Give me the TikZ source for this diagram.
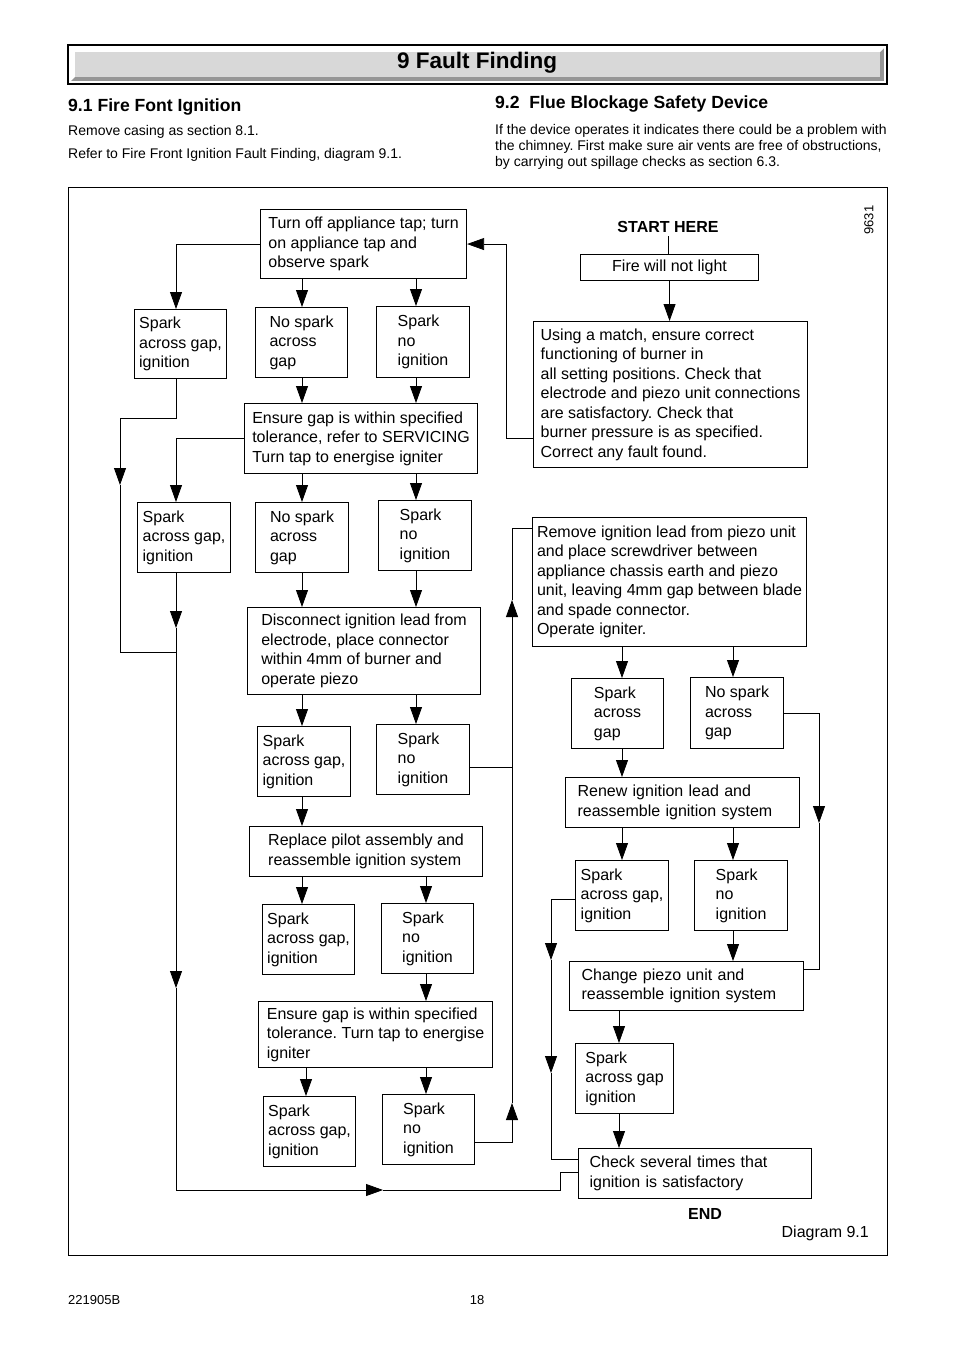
\documentclass[tikz,border=0pt]{standalone}
\usepackage{fontspec}
\setmainfont{Liberation Sans}
\usepackage{tikz}
\usetikzlibrary{arrows.meta,calc}
\definecolor{BevelFace}{RGB}{216,216,216}
\definecolor{BevelDark}{RGB}{150,150,150}
\newcommand{\boxfont}{\fontsize{16}{19.5}\selectfont}
\newcommand{\bodyfont}{\fontsize{14}{16}\selectfont}
\newcommand{\headfont}{\fontsize{17.6}{20}\selectfont\bfseries}
\frenchspacing
\tikzset{
  fbox/.style 2 args={draw, line width=1.1pt, anchor=north west, inner sep=0pt,
    minimum width=#1pt, minimum height=#2pt, align=left, font=\boxfont},
  txt/.style={inner sep=0pt},
  flow/.style={line width=0.8pt},
  arr/.style={flow, -{Triangle[length=17pt,width=12pt]}}
}

\begin{document}
\begin{tikzpicture}[x=1pt,y=-1pt]
  \useasboundingbox (0,0) rectangle (954,1351);
  % page header
  \fill[BevelDark] (71,48) rectangle (884,81);
  \fill[white] (71,48) -- (884,48) -- (880,52) -- (75,52) -- (75,77) -- (71,81) -- cycle;
  \fill[BevelFace] (75,52) rectangle (880,77);
  \draw[line width=1.1pt] (68,45) rectangle (887,84);
  \node[font=\fontsize{22.5}{26}\selectfont\bfseries] (title) at (477,63) {9 Fault Finding};
  \node[txt, anchor=base west, font=\headfont] (secA) at (68,112) {9.1 Fire Font Ignition};
  \node[txt, anchor=base west, font=\bodyfont] (secAone) at (68,136) {Remove casing as section 8.1.};
  \node[txt, anchor=base west, font=\bodyfont] (secAtwo) at (68,159) {Refer to Fire Front Ignition Fault Finding, diagram 9.1.};
  \node[txt, anchor=base west, font=\headfont] (secB) at (495,109) {9.2\ \ Flue Blockage Safety Device};
  \node[txt, anchor=north west, font=\bodyfont, align=left] (secBtext) at (495,124)
    {If the device operates it indicates there could be a problem with\\
     the chimney. First make sure air vents are free of obstructions,\\
     by carrying out spillage checks as section 6.3.};

  % diagram frame
  \draw[line width=0.9pt] (68,187) rectangle (887,1255);
  \node[rotate=90, font=\fontsize{13}{15}\selectfont] (figNo) at (869,220) {9631};

  % left part of the chart
  \node[fbox={206}{69}] (tapBox) at (260,209) {Turn off appliance tap; turn\\on appliance tap and\\observe spark};
  \node[fbox={92}{69}] (sparkA) at (134,309) {Spark\\across gap,\\ignition};
  \node[fbox={92}{70}] (noSparkA) at (255,307) {No spark\\across\\gap};
  \node[fbox={93}{71}] (noIgnA) at (376,306) {Spark\\no\\ignition};
  \node[fbox={233}{70}] (gapBox) at (244,403) {Ensure gap is within specified\\tolerance, refer to SERVICING\\Turn tap to energise igniter};
  \node[fbox={93}{70}] (sparkB) at (137,502) {Spark\\across gap,\\ignition};
  \node[fbox={93}{70}] (noSparkB) at (255,502) {No spark\\across\\gap};
  \node[fbox={93}{70}] (noIgnB) at (378,500) {Spark\\no\\ignition};
  \node[fbox={233}{87}] (leadBox) at (247,607) {Disconnect ignition lead from\\electrode, place connector\\within 4mm of burner and\\operate piezo};
  \node[fbox={93}{70}] (sparkC) at (257,726) {Spark\\across gap,\\ignition};
  \node[fbox={93}{70}] (noIgnC) at (376,724) {Spark\\no\\ignition};
  \node[fbox={233}{50}] (pilotBox) at (249,826) {Replace pilot assembly and\\reassemble ignition system};
  \node[fbox={92}{70}] (sparkD) at (262,904) {Spark\\across gap,\\ignition};
  \node[fbox={92}{70}] (noIgnD) at (381,903) {Spark\\no\\ignition};
  \node[fbox={234}{66}] (gapBoxB) at (258,1001) {Ensure gap is within specified\\tolerance. Turn tap to energise\\igniter};
  \node[fbox={92}{70}] (sparkE) at (263,1096) {Spark\\across gap,\\ignition};
  \node[fbox={92}{70}] (noIgnE) at (382,1094) {Spark\\no\\ignition};

  % right part of the chart
  \node[font=\boxfont\bfseries] (start) at (668,227) {START HERE};
  \node[fbox={178}{26}, align=center] (fireBox) at (580,254) {Fire will not light};
  \node[fbox={274}{146}] (matchBox) at (533,321) {Using a match, ensure correct\\functioning of burner in\\all setting positions. Check that\\electrode and piezo unit connections\\are satisfactory. Check that\\burner pressure is as specified.\\Correct any fault found.};
  \node[fbox={274}{129}] (piezoTest) at (532,517) {Remove ignition lead from piezo unit\\and place screwdriver between\\appliance chassis earth and piezo\\unit, leaving 4mm gap between blade\\and spade connector.\\Operate igniter.};
  \node[fbox={92}{70}] (sparkP) at (571,678) {Spark\\across\\gap};
  \node[fbox={93}{71}] (noSparkP) at (690,677) {No spark\\across\\gap};
  \node[fbox={234}{50}, text width=210pt] (leadRenew) at (565,777) {Renew ignition lead and\\reassemble ignition system};
  \node[fbox={93}{70}] (sparkQ) at (575,860) {Spark\\across gap,\\ignition};
  \node[fbox={93}{70}] (noIgnQ) at (694,860) {Spark\\no\\ignition};
  \node[fbox={234}{49}, text width=210pt] (piezoChange) at (569,961) {Change piezo unit and\\reassemble ignition system};
  \node[fbox={98}{70}] (sparkR) at (575,1043) {Spark\\across gap\\ignition};
  \node[fbox={233}{50}, text width=211pt] (checkBox) at (578,1148) {Check several times that\\ignition is satisfactory};
  \node[font=\boxfont\bfseries] (finish) at (705,1214) {END};
  \node[txt, anchor=base east, font=\boxfont] (diagLabel) at (869,1237) {Diagram 9.1};

  % footer
  \node[txt, anchor=base west, font=\fontsize{13}{15}\selectfont] (docNo) at (68,1304) {221905B};
  \node[txt, anchor=base, font=\fontsize{13}{15}\selectfont] (pageNo) at (477,1304) {18};

  % columns of the straight arrows
  \coordinate (colL) at (176,0);
  \coordinate (colM) at (302,0);
  \coordinate (colR) at (416,0);
  \coordinate (colM2) at (306,0);
  \coordinate (colR2) at (426,0);
  \coordinate (colP) at (622,0);
  \coordinate (colP2) at (619,0);
  \coordinate (colQ) at (733,0);

  % straight arrows, left part
  \draw[arr] (tapBox.south -| colM) -- (noSparkA.north -| colM);
  \draw[arr] (tapBox.south -| colR) -- (noIgnA.north -| colR);
  \draw[arr] (tapBox.west) -| (sparkA.north -| colL);
  \draw[arr] (noSparkA.south -| colM) -- (gapBox.north -| colM);
  \draw[arr] (noIgnA.south -| colR) -- (gapBox.north -| colR);
  \draw[arr] (gapBox.west) -| (sparkB.north -| colL);
  \draw[arr] (gapBox.south -| colM) -- (noSparkB.north -| colM);
  \draw[arr] (gapBox.south -| colR) -- (noIgnB.north -| colR);
  \draw[arr] (noSparkB.south -| colM) -- (leadBox.north -| colM);
  \draw[arr] (noIgnB.south -| colR) -- (leadBox.north -| colR);
  \draw[arr] (leadBox.south -| colM) -- (sparkC.north -| colM);
  \draw[arr] (leadBox.south -| colR) -- (noIgnC.north -| colR);
  \draw[arr] (sparkC.south -| colM) -- (pilotBox.north -| colM);
  \draw[arr] (pilotBox.south -| colM) -- (sparkD.north -| colM);
  \draw[arr] (pilotBox.south -| colR2) -- (noIgnD.north -| colR2);
  \draw[arr] (noIgnD.south -| colR2) -- (gapBoxB.north -| colR2);
  \draw[arr] (gapBoxB.south -| colM2) -- (sparkE.north -| colM2);
  \draw[arr] (gapBoxB.south -| colR2) -- (noIgnE.north -| colR2);

  % outer left return
  \coordinate (loopTop) at (120,418);
  \coordinate (loopTip) at (120,485);
  \coordinate (loopEnd) at (120,652);
  \draw[arr] (sparkA.south -| colL) |- (loopTop) -- (loopTip);
  \draw[flow] (loopTip) -- (loopEnd) -- (loopEnd -| colL);

  % long line down to the check box
  \coordinate (downTipA) at (176,628);
  \coordinate (downTipB) at (176,988);
  \coordinate (baseCorner) at (176,1190);
  \coordinate (baseTip) at (383,1190);
  \coordinate (baseJog) at (560,1190);
  \coordinate (jogTop) at (560,1172);
  \draw[arr] (sparkB.south -| colL) -- (downTipA);
  \draw[arr] (downTipA) -- (downTipB);
  \draw[arr] (downTipB) -- (baseCorner) -- (baseTip);
  \draw[flow] (baseTip) -- (baseJog) -- (jogTop) -- (jogTop -| checkBox.west);

  % rising line to the piezo test
  \coordinate (riseBend) at (512,767);
  \coordinate (lowBend) at (512,1142);
  \coordinate (riseTipA) at (512,600);
  \coordinate (riseTipB) at (512,1103);
  \coordinate (riseTop) at (512,528);
  \draw[flow] (noIgnC.east |- riseBend) -- (riseBend);
  \draw[arr] (noIgnE.east |- lowBend) -- (lowBend) -- (riseTipB);
  \draw[flow] (riseTipB) -- (riseBend);
  \draw[arr] (riseBend) -- (riseTipA);
  \draw[flow] (riseTipA) -- (riseTop) -- (riseTop -| piezoTest.west);

  % back from the match check to the tap
  \coordinate (backBend) at (506,438);
  \draw[arr] (matchBox.west |- backBend) -- (backBend) |- (tapBox.east);

  % right part
  \draw[flow] (start.south) -- (start.south |- fireBox.north);
  \draw[arr] (fireBox.south) -- (fireBox.south |- matchBox.north);
  \draw[arr] (piezoTest.south -| colP) -- (sparkP.north -| colP);
  \draw[arr] (piezoTest.south -| colQ) -- (noSparkP.north -| colQ);
  \draw[arr] (sparkP.south -| colP) -- (leadRenew.north -| colP);
  \draw[arr] (leadRenew.south -| colP) -- (sparkQ.north -| colP);
  \draw[arr] (leadRenew.south -| colQ) -- (noIgnQ.north -| colQ);
  \draw[arr] (noIgnQ.south -| colQ) -- (piezoChange.north -| colQ);
  \draw[arr] (piezoChange.south -| colP2) -- (sparkR.north -| colP2);
  \draw[arr] (sparkR.south -| colP2) -- (checkBox.north -| colP2);

  % side loop from no spark to piezo change
  \coordinate (sideTip) at (819,823);
  \coordinate (sideLow) at (819,969);
  \draw[arr] (noSparkP.east) -| (sideTip);
  \draw[flow] (sideTip) -- (sideLow) -- (sideLow -| piezoChange.east);

  % inner loop from spark to the check box
  \coordinate (innerTop) at (551,899);
  \coordinate (innerTipA) at (551,960);
  \coordinate (innerTipB) at (551,1073);
  \coordinate (innerLow) at (551,1159);
  \draw[arr] (sparkQ.west |- innerTop) -- (innerTop) -- (innerTipA);
  \draw[arr] (innerTipA) -- (innerTipB);
  \draw[flow] (innerTipB) -- (innerLow) -- (innerLow -| checkBox.west);
\end{tikzpicture}
\end{document}
